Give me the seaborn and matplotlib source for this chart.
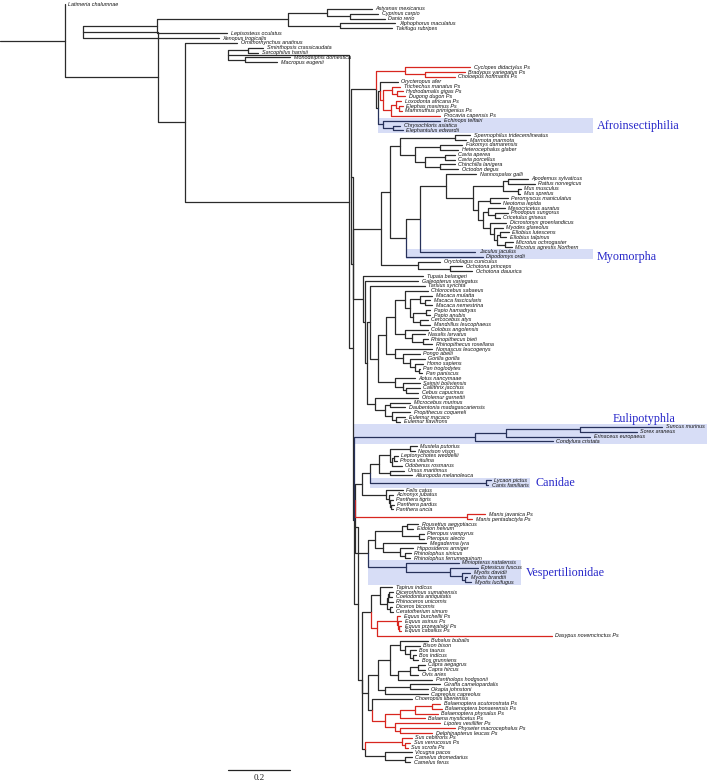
import numpy as np
import pandas as pd
import matplotlib
matplotlib.use("Agg")
import matplotlib.pyplot as plt
import seaborn as sns
from matplotlib.patches import Rectangle

# ---------------- DATA ----------------
# Newick pieces; the number after ':' is the root-to-node distance in 1/1000 substitutions/site
FISH = "((Astyanax_mexicanus:1177,(Cyprinus_carpio:1197,Danio_rerio:1219):1106):1032,(Xiphophorus_maculatus:1252,Takifugu_rubripes:1242):1074):906"

ATLANTO = ("((Cyclopes_didactylus_Ps:1494,(Bradypus_variegatus_Ps:1477,Choloepus_hoffmanni_Ps:1445):1348):1284,"
           "((Orycteropus_afer:1261,((Trichechus_manatus_Ps:1268,(Hydrodamalis_gigas_Ps:1277,Dugong_dugon_Ps:1284):1258):1242,"
           "((Loxodonta_africana_Ps:1271,(Elephas_maximus_Ps:1277,Mammuthus_primigenius_Ps:1274):1264):1255,Procavia_capensis_Ps:1397):1239):1213):1203,"
           "(Echinops_telfairi:1397,(Chrysochloris_asiatica:1268,Elephantulus_edwardii:1277):1245):1213):1197):1190")

MURINAE = "((Apodemus_sylvaticus:1681,Rattus_norvegicus:1703):1616,(Mus_musculus:1658,Mus_spretus:1655):1648):1600"

CRICETIDAE = ("((Peromyscus_maniculatus:1616,Neotoma_lepida:1590):1558,((Mesocricetus_auratus:1606,(Phodopus_sungorus:1616,Cricetulus_griseus:1590):1574):1552,"
              "(Dicrostonyx_groenlandicus:1610,(Myodes_glareolus:1600,((Ellobius_lutescens:1619,Ellobius_talpinus:1610):1590,"
              "(Microtus_ochrogaster:1632,Microtus_agrestis_Northern:1629):1606):1581):1571):1558):1535):1519")

MYOMORPHA = "(((Nannospalax_galli:1513,({MURINAE},{CRICETIDAE}):1503):1416,Jaculus_jaculus:1510):1332,Dipodomys_ordii:1535):1287"

RODENTIA = ("(((Spermophilus_tridecemlineatus:1494,Marmota_marmota:1481):1445,((Fukomys_damarensis:1468,Heterocephalus_glaber:1455):1397,"
            "((Cavia_aperea:1445,Cavia_porcellus:1445):1413,(Chinchilla_lanigera:1445,Octodon_degus:1455):1397):1348):1316):1268,{MYOMORPHA}):1235")

LAGOMORPHA = "(Oryctolagus_cuniculus:1397,(Ochotona_princeps:1468,Ochotona_dauurica:1500):1429):1326"

PRIMATES = ("((Tarsius_syrichta:1348,((((Chlorocebus_sabaeus:1358,((Macaca_mulatta:1371,(Macaca_fascicularis:1365,Macaca_nemestrina:1371):1348):1332,"
            "((Papio_hamadryas:1365,Papio_anubis:1365):1352,(Cercocebus_atys:1358,Mandrillus_leucophaeus:1365):1332):1310):1300):1284,"
            "(Colobus_angolensis:1358,(Nasalis_larvatus:1348,(Rhinopithecus_bieti:1358,Rhinopithecus_roxellana:1371):1342):1306):1284):1252,"
            "(Nomascus_leucogenys:1371,(Pongo_abelii:1332,(Gorilla_gorilla:1348,(Homo_sapiens:1342,(Pan_troglodytes:1332,Pan_paniscus:1339):1329):1316):1300):1277):1252):1223,"
            "(Aotus_nancymaae:1316,(Saimiri_boliviensis:1332,(Callithrix_jacchus:1332,Cebus_capucinus:1326):1287):1277):1252):1197):1171,"
            "(Otolemur_garnettii:1326,((Microcebus_murinus:1300,Daubentonia_madagascariensis:1284):1235,"
            "(Propithecus_coquereli:1300,(Eulemur_macaco:1284,Eulemur_flavifrons:1268):1255):1242):1219):1187):1161")

EUARCH = "(({RODENTIA},{LAGOMORPHA}):1206,(Tupaia_belangeri:1342,(Galeopterus_variegatus:1326,{PRIMATES}):1155):1148):1116"

EULIPOTYPHLA = "(((Suncus_murinus:2113,Sorex_araneus:2032):1848,Erinaceus_europaeus:1881):1610,Condylura_cristata:1761):1510"

FERAE = ("((((((Mustela_putorius:1322,Neovison_vison:1316):1300,((Leptonychotes_weddellii:1261,Phoca_vitulina:1258):1248,Odobenus_rosmarus:1274):1242):1235,"
         "(Ursus_maritimus:1281,Ailuropoda_melanoleuca:1306):1235):1200,(Lycaon_pictus:1561,Canis_familiaris:1552):1545):1171,"
         "(Felis_catus:1277,(Acinonyx_jubatus:1245,(Panthera_tigris:1245,(Panthera_pardus:1248,Panthera_uncia:1245):1240):1237):1232):1223):1145,"
         "(Manis_javanica_Ps:1542,Manis_pentadactyla_Ps:1500):1484):1124")

CHIROPTERA = ("((((Rousettus_aegyptiacus:1326,Eidolon_helvum:1310):1290,(Pteropus_vampyrus:1345,Pteropus_alecto:1345):1329):1274,"
              "(Megaderma_lyra:1352,(Hipposideros_armiger:1310,(Rhinolophus_sinicus:1303,Rhinolophus_ferrumequinum:1300):1284):1268):1213):1187,"
              "(Miniopterus_natalensis:1458,(Eptesicus_fuscus:1519,(Myotis_davidii:1494,(Myotis_brandtii:1484,Myotis_lucifugus:1497):1477):1468):1429):1287):1164")

CETART = ("((((Bubalus_bubalis:1358,(Bison_bison:1332,(Bos_taurus:1319,(Bos_indicus:1319,Bos_grunniens:1326):1310):1300):1284):1268,"
          "(((Capra_aegagrus:1348,Capra_hircus:1348):1326,Ovis_aries:1326):1300,Pantholops_hodgsonii:1371):1261):1235,"
          "((Giraffa_camelopardalis:1397,Okapia_johnstoni:1358):1300,Capreolus_capreolus:1358):1219):1197,"
          "(Choeropsis_liberiensis:1306,((((Balaenoptera_acutorostrata_Ps:1397,Balaenoptera_bonaerensis_Ps:1403):1371,Balaenoptera_physalus_Ps:1390):1316,"
          "Balaena_mysticetus_Ps:1348):1268,(Lipotes_vexillifer_Ps:1397,(Physeter_macrocephalus_Ps:1445,Delphinapterus_leucas_Ps:1371):1268):1252):1219):1177):1164,"
          "((Sus_cebifrons_Ps:1306,(Sus_verrucosus_Ps:1300,Sus_scrofa_Ps:1293):1284):1274,"
          "(Vicugna_pacos:1306,(Camelus_dromedarius:1306,Camelus_ferus:1300):1284):1219):1155):1145")

EUUNGULATA = ("(((Tapirus_indicus:1242,(((Dicerorhinus_sumatrensis:1245,Coelodonta_antiquitatis:1242):1232,Rhinoceros_unicornis:1245):1229,"
              "(Diceros_bicornis:1242,Ceratotherium_simum:1245):1235):1226):1203,((Equus_burchellii_Ps:1268,(Equus_asinus_Ps:1271,"
              "(Equus_przewalskii_Ps:1271,Equus_caballus_Ps:1271):1264):1261):1258,Dasypus_novemcinctus_Ps:1758):1194):1174,{CETART}):1132")

LAURASIA = "({EULIPOTYPHLA},(({FERAE},{CHIROPTERA}):1121,{EUUNGULATA}):1118):1116"

PLACENTALIA = "(({ATLANTO},{EUARCH}):1110,{LAURASIA}):1103"

TREE = ("(Latimeria_chalumnae:187,((({FISH},Lepisosteus_oculatus:710):484,Xenopus_tropicalis:684):245,"
        "(Ornithorhynchus_anatinus:742,(((Sminthopsis_crassicaudata:826,Sarcophilus_harrisii:810):777,"
        "(Monodelphis_domestica:913,Macropus_eugenii:871):768):713,{PLACENTALIA}):574):487):187):0")

# highlighted clades: label, first leaf, last leaf
BOX_CLADES = [
    ("Afroinsectiphilia", "Echinops telfairi", "Elephantulus edwardii"),
    ("Myomorpha", "Jaculus jaculus", "Dipodomys ordii"),
    ("Eulipotyphla", "Suncus murinus", "Condylura cristata"),
    ("Canidae", "Lycaon pictus", "Canis familiaris"),
    ("Vespertilionidae", "Miniopterus natalensis", "Myotis lucifugus"),
]
SCALE_VALUE = 0.2

# ---------------- BUILD TREE ----------------
pieces = dict(FISH=FISH, ATLANTO=ATLANTO, MURINAE=MURINAE, CRICETIDAE=CRICETIDAE)
MYO = MYOMORPHA.format(**pieces)
ROD = RODENTIA.format(MYOMORPHA=MYO)
EUA = EUARCH.format(RODENTIA=ROD, LAGOMORPHA=LAGOMORPHA, PRIMATES=PRIMATES)
EUU = EUUNGULATA.format(CETART=CETART)
LAU = LAURASIA.format(EULIPOTYPHLA=EULIPOTYPHLA, FERAE=FERAE, CHIROPTERA=CHIROPTERA, EUUNGULATA=EUU)
PLA = PLACENTALIA.format(ATLANTO=ATLANTO, EUARCH=EUA, LAURASIA=LAU)
newick = TREE.format(FISH=FISH, PLACENTALIA=PLA).replace(" ", "")


def parse(s):
    pos = 0

    def node():
        nonlocal pos
        n = {"children": [], "name": None, "x": 0.0}
        if s[pos] == "(":
            pos += 1
            while True:
                n["children"].append(node())
                if s[pos] == ",":
                    pos += 1
                    continue
                if s[pos] == ")":
                    pos += 1
                    break
        st = pos
        while pos < len(s) and s[pos] not in ":,()":
            pos += 1
        if s[st:pos]:
            n["name"] = s[st:pos].replace("_", " ")
        if pos < len(s) and s[pos] == ":":
            pos += 1
            st = pos
            while pos < len(s) and s[pos] not in ",()":
                pos += 1
            n["x"] = float(s[st:pos]) / 1000.0
        return n

    return node()


root = parse(newick)
leaves = []


def layout(n, parent=None):
    n["parent"] = parent
    if not n["children"]:
        n["y"] = float(len(leaves))
        leaves.append(n)
        n["leafnames"] = [n["name"]]
    else:
        for c in n["children"]:
            layout(c, n)
        n["y"] = (n["children"][0]["y"] + n["children"][-1]["y"]) / 2
        n["leafnames"] = sum((c["leafnames"] for c in n["children"]), [])
    n["red"] = all(nm.endswith(" Ps") for nm in n["leafnames"])


layout(root)
leaf_index = {l["name"]: l for l in leaves}

box_sets = []
for lab, a, b in BOX_CLADES:
    i0, i1 = int(leaf_index[a]["y"]), int(leaf_index[b]["y"])
    box_sets.append(set(l["name"] for l in leaves[i0:i1 + 1]))

rows = []
allnodes = []


def walk(n):
    allnodes.append(n)
    for c in n["children"]:
        walk(c)


walk(root)
for k, n in enumerate(allnodes):
    p = n["parent"]
    if p is None:
        continue
    if n["red"]:
        kind = "red"
    elif any(set(n["leafnames"]) <= bs for bs in box_sets):
        kind = "box"
    else:
        kind = "black"
    for j, (x, y) in enumerate([(p["x"], p["y"]), (p["x"], n["y"]), (n["x"], n["y"])]):
        rows.append(dict(seg=k, x=x, y=y, kind=kind, o=j))
seg = pd.DataFrame(rows)

# ---------------- DRAW ----------------
sns.set_theme(style="white")
plt.rcParams["font.family"] = ["Liberation Sans", "DejaVu Sans"]

W, H = 708, 783
PXU = 310.0          # pixels per substitution
X0 = 7.0             # pixel of the root
Y0, DY = 4.0, 4.86   # pixel of first leaf and leaf spacing
px2x = lambda X: (X - X0) / PXU
px2y = lambda Y: (Y - Y0) / DY

fig = plt.figure(figsize=(W / 100, H / 100), dpi=100)
ax = fig.add_axes([0, 0, 1, 1])
ax.set_xlim(px2x(0), px2x(W))
ax.set_ylim(px2y(H), px2y(0))

box_style = {
    "Afroinsectiphilia": dict(mode="parent", xend=593, lx=597, ly=None),
    "Myomorpha": dict(mode="mrca", xend=593, lx=597, ly="last"),
    "Eulipotyphla": dict(mode="parent", xend=707, lx=613, ly="above"),
    "Canidae": dict(mode="parent", xend=530, lx=536, ly=None),
    "Vespertilionidae": dict(mode="parent", xend=521, lx=526, ly=None),
}


def mrca(names):
    node = leaf_index[names[0]]
    while not set(names) <= set(node["leafnames"]):
        node = node["parent"]
    return node


for lab, a, b in BOX_CLADES:
    st = box_style[lab]
    i0, i1 = leaf_index[a]["y"], leaf_index[b]["y"]
    names = [l["name"] for l in leaves[int(i0):int(i1) + 1]]
    m = mrca(names)
    xs = m["parent"]["x"] if st["mode"] == "parent" else m["x"]
    xe = px2x(st["xend"])
    ax.add_patch(Rectangle((xs, i0 - 0.5), xe - xs, i1 - i0 + 1.0, facecolor="#d7ddf6",
                           edgecolor="none", zorder=0))
    if st["ly"] == "above":
        ty = i0 - 1.6
    elif st["ly"] == "last":
        ty = i1
    else:
        ty = (i0 + i1) / 2
    ax.text(px2x(st["lx"]), ty, lab, family=["Liberation Serif", "DejaVu Serif"], fontsize=8.7,
            color="#2727c9", va="center", ha="left", zorder=3)

pal = {"black": "#2b2b2b", "red": "#d8261f", "box": "#27315a"}
sns.lineplot(data=seg, x="x", y="y", units="seg", estimator=None, hue="kind", palette=pal,
             sort=False, linewidth=0.9, legend=False, ax=ax, zorder=2)

# root stub
ax.plot([px2x(0), root["x"]], [root["y"], root["y"]], color=pal["black"], lw=0.9, zorder=2)

# tip labels
for l in leaves:
    ax.text(l["x"] + 3.5 / PXU, l["y"], l["name"], fontsize=3.9, style="italic",
            family=["Liberation Sans", "DejaVu Sans"], color="#111111", va="center", ha="left", zorder=3)

# scale bar
sb_x0 = px2x(228)
sb_y = px2y(770)
ax.plot([sb_x0, sb_x0 + SCALE_VALUE], [sb_y, sb_y], color="#222222", lw=0.9)
ax.text(sb_x0 + SCALE_VALUE / 2, px2y(774), f"{SCALE_VALUE}", ha="center", va="top",
        family=["Liberation Serif", "DejaVu Serif"], fontsize=6.5, color="#222222")

ax.set_xlim(px2x(0), px2x(W))
ax.set_ylim(px2y(H), px2y(0))
ax.axis("off")
fig.savefig("out.png", dpi=100)
